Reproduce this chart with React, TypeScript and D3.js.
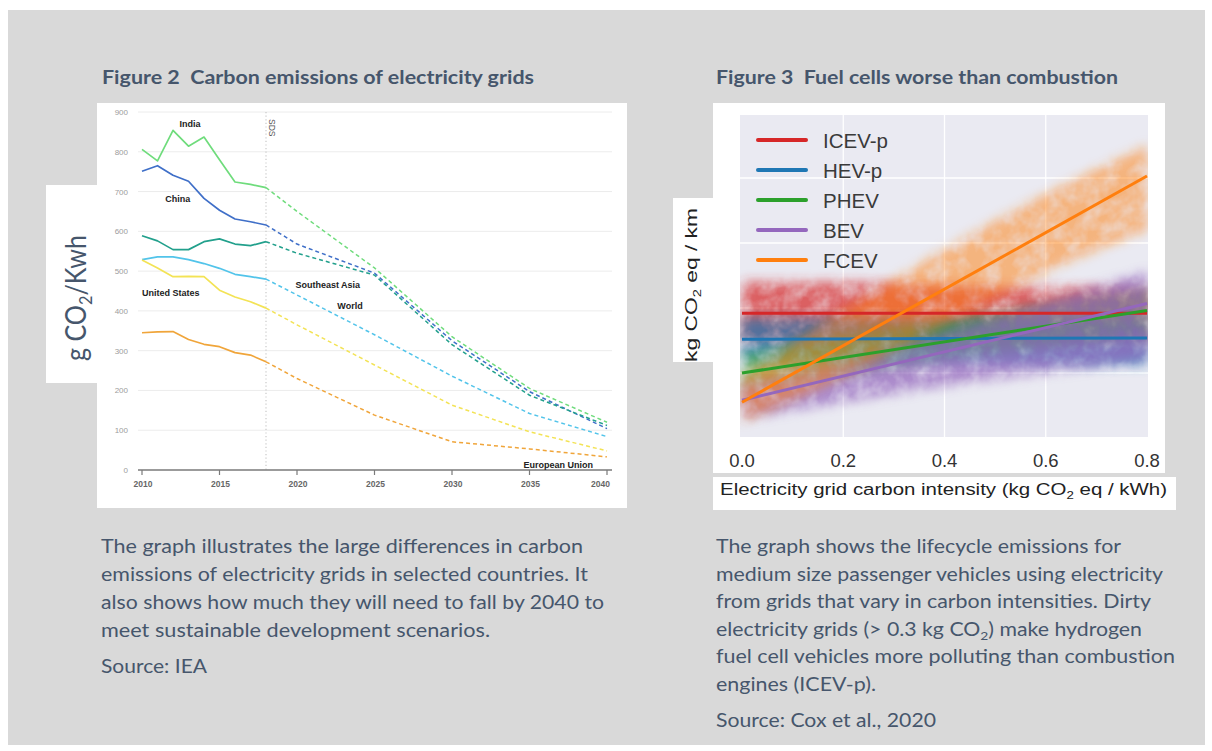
import React from 'react';
import * as d3 from 'd3';

// ---- Figure 2 data (g CO2 / kWh) ----
const histYears = [2010, 2011, 2012, 2013, 2014, 2015, 2016, 2017, 2018];
const sdsYears = [2018, 2020, 2025, 2030, 2035, 2040];

const indiaHist = [806, 777, 854, 814, 837, 780, 724, 718, 710];
const chinaHist = [751, 765, 741, 726, 683, 653, 631, 624, 616];
const seAsiaHist = [589, 576, 554, 554, 574, 581, 568, 564, 574];
const worldHist = [529, 536, 536, 529, 519, 507, 492, 486, 480];
const usHist = [528, 508, 486, 487, 486, 452, 435, 423, 407];
const euHist = [345, 347, 348, 328, 316, 310, 295, 289, 272];

const indiaSds = [710, 650, 508, 335, 205, 120];
const chinaSds = [616, 568, 495, 325, 197, 104];
const seAsiaSds = [574, 545, 490, 315, 188, 112];
const worldSds = [480, 440, 340, 236, 142, 84];
const usSds = [407, 365, 264, 163, 96, 48];
const euSds = [272, 230, 138, 71, 53, 33];

const gridTicks = [0, 100, 200, 300, 400, 500, 600, 700, 800, 900];
const yearTicks = [2010, 2015, 2020, 2025, 2030, 2035, 2040];

// ---- Figure 3 data (kg CO2 eq / km vs kg CO2 eq / kWh) ----
const vehicles = ['ICEV-p', 'HEV-p', 'PHEV', 'BEV', 'FCEV'];
const vehicleColors = ['#d62728', '#1f77b4', '#2ca02c', '#9467bd', '#ff7f0e'];
const fitAtZero = [0.192, 0.152, 0.1, 0.058, 0.055];
const fitAtEnd = [0.192, 0.154, 0.196, 0.207, 0.403];
const intensitySteps = [0, 0.2, 0.4, 0.6, 0.8];
// spread of the simulated results, low / high at each intensity step
const cloudLow = [
  [0.145, 0.145, 0.145, 0.145, 0.145],
  [0.115, 0.115, 0.115, 0.112, 0.112],
  [0.075, 0.095, 0.12, 0.14, 0.165],
  [0.03, 0.055, 0.08, 0.1, 0.12],
  [0.025, 0.095, 0.175, 0.255, 0.32],
];
const cloudHigh = [
  [0.24, 0.24, 0.235, 0.232, 0.23],
  [0.185, 0.185, 0.183, 0.183, 0.185],
  [0.13, 0.155, 0.18, 0.205, 0.23],
  [0.085, 0.12, 0.16, 0.21, 0.255],
  [0.095, 0.195, 0.29, 0.375, 0.45],
];
const cloudOpacity = [0.7, 0.7, 0.55, 0.72, 0.5];
const intensityTicks = [0, 0.2, 0.4, 0.6, 0.8];
const emissionGrid = [0.1, 0.2, 0.3, 0.4];

// ---- text ----
const leftLines = [
  'The graph illustrates the large differences in carbon',
  'emissions of electricity grids in selected countries. It',
  'also shows how much they will need to fall by 2040 to',
  'meet sustainable development scenarios.',
];
const leftWidths = [482, 487, 503, 389];
const rightLines = [
  'The graph shows the lifecycle emissions for',
  'medium size passenger vehicles using electricity',
  'from grids that vary in carbon intensities. Dirty',
  'electricity grids (> 0.3 kg CO₂) make hydrogen',
  'fuel cell vehicles more polluting than combustion',
  'engines (ICEV-p).',
];
const rightWidths = [405, 447, 435, 426, 459, 160];

const slate = '#46566c';
const bodyFont = 'Lato, "Open Sans", sans-serif';
const chartFont = '"Liberation Sans", Arial, sans-serif';

function withSub(str: string, size: number) {
  const parts = str.split('₂');
  const out: React.ReactNode[] = [];
  parts.forEach((p, i) => {
    if (i > 0) {
      out.push(
        <tspan key={'s' + i} fontSize={size * 0.65} dy={size * 0.22}>2</tspan>
      );
      out.push(<tspan key={'p' + i} dy={-size * 0.22}>{p}</tspan>);
    } else {
      out.push(<tspan key={'p' + i}>{p}</tspan>);
    }
  });
  return out;
}

const App: React.FC = () => {
  // Figure 2 scales
  const xL = d3.scaleLinear().domain([2010, 2040]).range([142, 607]);
  const yL = d3.scaleLinear().domain([0, 900]).range([470, 112]);
  const lineL = d3.line<[number, number]>().x(d => xL(d[0])).y(d => yL(d[1]));

  const series = [
    { name: 'India', color: '#6fdc7c', hist: indiaHist, sds: indiaSds },
    { name: 'China', color: '#3f6fc8', hist: chinaHist, sds: chinaSds },
    { name: 'Southeast Asia', color: '#22a08c', hist: seAsiaHist, sds: seAsiaSds },
    { name: 'World', color: '#52c4ea', hist: worldHist, sds: worldSds },
    { name: 'United States', color: '#f3e355', hist: usHist, sds: usSds },
    { name: 'European Union', color: '#f0a53a', hist: euHist, sds: euSds },
  ];

  const labels = [
    { t: 'India', x: 2013.1, y: 862, a: 'middle' },
    { t: 'China', x: 2012.3, y: 673, a: 'middle' },
    { t: 'United States', x: 2010, y: 437, a: 'start' },
    { t: 'Southeast Asia', x: 2019.9, y: 457, a: 'start' },
    { t: 'World', x: 2022.6, y: 405, a: 'start' },
    { t: 'European Union', x: 2039.1, y: 5, a: 'end' },
  ];

  // Figure 3 scales
  const xR = d3.scaleLinear().domain([0, 0.8]).range([742, 1147]);
  const yR = d3.scaleLinear().domain([0, 0.5]).range([438, 113]);
  const cloudArea = d3
    .area<number>()
    .x((_, i) => xR(intensitySteps[i]))
    .curve(d3.curveMonotoneX);

  return (
    <svg
      width={1212}
      height={751}
      style={{ position: 'absolute', left: 0, top: 0, display: 'block' }}
    >
      <defs>
        <filter id="cloud" x="-20%" y="-50%" width="140%" height="200%">
          <feGaussianBlur in="SourceGraphic" stdDeviation="6" result="b" />
          <feTurbulence type="fractalNoise" baseFrequency="0.06" numOctaves="3" seed="4" result="n" />
          <feColorMatrix in="n" type="matrix"
            values="0 0 0 0 0  0 0 0 0 0  0 0 0 0 0  1.1 0 0 0 0.3" result="m" />
          <feComposite in="b" in2="m" operator="in" />
        </filter>
        <clipPath id="plot3">
          <rect x={740} y={115} width={408} height={322} />
        </clipPath>
      </defs>

      <rect x={0} y={0} width={1212} height={751} fill="#ffffff" />
      <rect x={8} y={10} width={1197} height={735} fill="#d9d9d9" />

      {/* titles */}
      <text x={102} y={84} fontFamily={bodyFont} fontWeight={700} fontSize={19.5}
        fill={slate} textLength={432} lengthAdjust="spacingAndGlyphs"
        style={{ whiteSpace: 'pre' }}>
        Figure 2  Carbon emissions of electricity grids
      </text>
      <text x={716} y={84} fontFamily={bodyFont} fontWeight={700} fontSize={19.5}
        fill={slate} textLength={402} lengthAdjust="spacingAndGlyphs"
        style={{ whiteSpace: 'pre' }}>
        Figure 3  Fuel cells worse than combustion
      </text>

      {/* ---------- Figure 2 ---------- */}
      <rect x={97} y={103} width={530} height={405} fill="#fff" />
      <rect x={46} y={185} width={52} height={198} fill="#fff" />
      <text transform="translate(86,298) rotate(-90)" textAnchor="middle"
        fontFamily={bodyFont} fontSize={28} fill={slate}
        textLength={126} lengthAdjust="spacingAndGlyphs">
        {withSub('g CO₂/Kwh', 28)}
      </text>

      {gridTicks.map(v => (
        <g key={'gy' + v}>
          {v > 0 && (
            <line x1={138} x2={612} y1={yL(v)} y2={yL(v)} stroke="#ececec" strokeWidth={1} />
          )}
          <text x={128} y={yL(v) + 3} textAnchor="end" fontFamily={chartFont}
            fontSize={8} fill="#9c9c9c">{v}</text>
        </g>
      ))}

      <line x1={xL(2018)} x2={xL(2018)} y1={yL(900)} y2={yL(0)} stroke="#c9c9c9"
        strokeWidth={1.2} strokeDasharray="1.2,2.4" />
      <text transform={`translate(${xL(2018) + 3},119) rotate(90)`} fontFamily={chartFont}
        fontSize={8.5} fill="#555">SDS</text>

      {series.map(s => (
        <g key={s.name}>
          <path d={lineL(histYears.map((y, i) => [y, s.hist[i]] as [number, number])) || ''}
            fill="none" stroke={s.color} strokeWidth={1.7} strokeLinejoin="round" />
          <path d={lineL(sdsYears.map((y, i) => [y, s.sds[i]] as [number, number])) || ''}
            fill="none" stroke={s.color} strokeWidth={1.5} strokeDasharray="4,3" />
        </g>
      ))}

      <line x1={138} x2={612} y1={yL(0)} y2={yL(0)} stroke="#7a7a7a" strokeWidth={1.6} />
      {yearTicks.map((t, i) => (
        <g key={'xt' + t}>
          <line x1={xL(t)} x2={xL(t)} y1={yL(0)} y2={yL(0) + 5} stroke="#7a7a7a" strokeWidth={1.2} />
          <text x={i === yearTicks.length - 1 ? xL(t) + 3 : xL(t) + 1} y={487}
            textAnchor={i === yearTicks.length - 1 ? 'end' : 'middle'}
            fontFamily={chartFont} fontSize={8.5} fontWeight={700} fill="#666">{t}</text>
        </g>
      ))}

      {labels.map(l => (
        <text key={l.t} x={xL(l.x)} y={yL(l.y)} textAnchor={l.a as any}
          fontFamily={chartFont} fontSize={9} fontWeight={700} fill="#222">{l.t}</text>
      ))}

      {/* ---------- Figure 3 ---------- */}
      <rect x={713} y={103} width={452} height={370} fill="#fff" />
      <rect x={673} y={198} width={41} height={164} fill="#fff" />
      <rect x={713} y={477} width={463} height={33} fill="#fff" />
      <rect x={740} y={115} width={408} height={322} fill="#eaeaf2" />

      {emissionGrid.map(v => (
        <line key={'eg' + v} x1={740} x2={1148} y1={yR(v)} y2={yR(v)} stroke="#fff" strokeWidth={1.3} />
      ))}
      {intensityTicks.slice(1, -1).map(v => (
        <line key={'ig' + v} x1={xR(v)} x2={xR(v)} y1={115} y2={437} stroke="#fff" strokeWidth={1.3} />
      ))}

      <g clipPath="url(#plot3)">
        {vehicles.map((v, k) => (
          <path key={'c' + v}
            d={cloudArea.y0((_, i) => yR(cloudLow[k][i])).y1((_, i) => yR(cloudHigh[k][i]))(intensitySteps) || ''}
            fill={vehicleColors[k]} opacity={cloudOpacity[k]} filter="url(#cloud)" />
        ))}
        {vehicles.map((v, k) => (
          <line key={'f' + v} x1={xR(0)} x2={xR(0.8)} y1={yR(fitAtZero[k])} y2={yR(fitAtEnd[k])}
            stroke={vehicleColors[k]} strokeWidth={3} />
        ))}
      </g>

      {vehicles.map((v, k) => (
        <g key={'lg' + v} transform={`translate(0,${140 + k * 30})`}>
          <line x1={758} x2={806} y1={0} y2={0} stroke={vehicleColors[k]} strokeWidth={4} strokeLinecap="round" />
          <text x={823} y={7.5} fontFamily={chartFont} fontSize={20.5} fill="#3a3a3a">{v}</text>
        </g>
      ))}

      {intensityTicks.map(v => (
        <text key={'it' + v} x={xR(v)} y={467} textAnchor="middle" fontFamily={chartFont}
          fontSize={18.5} fill="#333">{v.toFixed(1)}</text>
      ))}

      <text x={720} y={495} fontFamily={chartFont} fontSize={16} fill="#222"
        textLength={447} lengthAdjust="spacingAndGlyphs">
        {withSub('Electricity grid carbon intensity (kg CO₂ eq / kWh)', 16)}
      </text>
      <text transform="translate(697,285) rotate(-90)" textAnchor="middle" fontFamily={chartFont}
        fontSize={16} fill="#222" textLength={154} lengthAdjust="spacingAndGlyphs">
        {withSub('kg CO₂ eq / km', 16)}
      </text>

      {/* ---------- captions ---------- */}
      {leftLines.map((l, i) => (
        <text key={'ll' + i} x={101} y={553 + i * 28} fontFamily={bodyFont} fontSize={18.5}
          fill={slate} textLength={leftWidths[i]} lengthAdjust="spacingAndGlyphs">{l}</text>
      ))}
      <text x={101} y={673} fontFamily={bodyFont} fontSize={18.5} fill={slate}
        textLength={106} lengthAdjust="spacingAndGlyphs">Source: IEA</text>

      {rightLines.map((l, i) => (
        <text key={'rl' + i} x={716} y={553 + i * 27.5} fontFamily={bodyFont} fontSize={18.5}
          fill={slate} textLength={rightWidths[i]} lengthAdjust="spacingAndGlyphs">
          {withSub(l, 18.5)}
        </text>
      ))}
      <text x={716} y={727} fontFamily={bodyFont} fontSize={18.5} fill={slate}
        textLength={220} lengthAdjust="spacingAndGlyphs">Source: Cox et al., 2020</text>
    </svg>
  );
};

export default App;
